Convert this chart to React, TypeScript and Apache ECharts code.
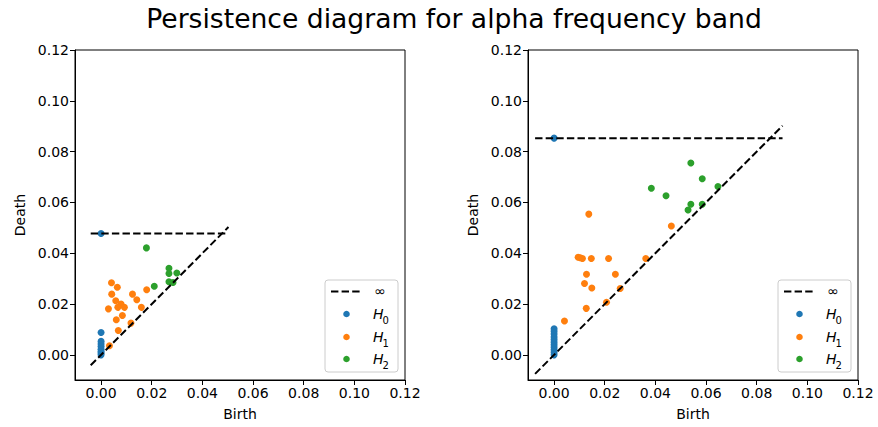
import React, { useEffect, useRef } from "react";
import * as echarts from "echarts";

// ---- data: [birth, death] pairs ----
const leftInf = 0.0478;
const leftDiag = [-0.0041, 0.0503];
const leftH0 = [
  [0, leftInf], [0, 0.0088], [0, 0.0053], [0, 0.0043], [0, 0.0033],
  [0, 0.0022], [0, 0.0013], [0, 0.0007], [0, 0.0],
];
const leftH1 = [
  [0.0041, 0.0284], [0.0064, 0.0266], [0.0042, 0.0239], [0.0124, 0.0239],
  [0.018, 0.0256], [0.0058, 0.0213], [0.0141, 0.0217], [0.0079, 0.02],
  [0.0066, 0.0187], [0.0092, 0.0187], [0.0029, 0.0181], [0.0159, 0.0187],
  [0.0084, 0.0155], [0.006, 0.0138], [0.0068, 0.0096], [0.0118, 0.0125],
  [0.0033, 0.0036],
];
const leftH2 = [
  [0.0179, 0.0421], [0.0268, 0.0341], [0.0268, 0.032], [0.0299, 0.0322],
  [0.021, 0.027], [0.0268, 0.0288], [0.0284, 0.0285],
];

const rightInf = 0.0853;
const rightDiag = [-0.0075, 0.0902];
const rightH0 = [
  [0, rightInf], [0, 0.0103], [0, 0.0093], [0, 0.0082], [0, 0.007],
  [0, 0.006], [0, 0.005], [0, 0.004], [0, 0.003], [0, 0.002], [0, 0.001], [0, 0.0],
];
const rightH1 = [
  [0.0137, 0.0554], [0.0463, 0.0507], [0.0095, 0.0384], [0.0103, 0.0382],
  [0.0112, 0.0379], [0.0147, 0.0379], [0.0215, 0.0379], [0.0362, 0.0379],
  [0.0128, 0.0317], [0.0242, 0.0317], [0.012, 0.0281], [0.0149, 0.0263],
  [0.0261, 0.0261], [0.0127, 0.0183], [0.0207, 0.0207], [0.0041, 0.0133],
];
const rightH2 = [
  [0.054, 0.0755], [0.0585, 0.0693], [0.0384, 0.0656], [0.0442, 0.0626],
  [0.0647, 0.0663], [0.054, 0.0593], [0.0585, 0.0593], [0.0529, 0.057],
];

const tickValues = [0, 0.02, 0.04, 0.06, 0.08, 0.1, 0.12];
const titleText = "Persistence diagram for alpha frequency band";
const legendLabels = ["∞", "H", "H", "H"];
const legendSubs = ["", "0", "1", "2"];

const FONT = "DejaVu Sans";
const C0 = "#1f77b4";
const C1 = "#ff7f0e";
const C2 = "#2ca02c";

const grids = [
  { left: 75, top: 50, width: 330, height: 330 },
  { left: 528, top: 50, width: 330, height: 330 },
];

function makeX(i: number) {
  return {
    type: "value",
    gridIndex: i,
    min: -0.0103,
    max: 0.12,
    axisLine: { show: true, onZero: false, lineStyle: { color: "#000", width: 1 } },
    axisTick: { show: true, customValues: tickValues, length: 5, lineStyle: { color: "#000" } },
    axisLabel: {
      customValues: tickValues,
      formatter: (v: number) => v.toFixed(2),
      color: "#000",
      fontSize: 14,
      fontFamily: FONT,
      margin: 6,
    },
    splitLine: { show: false },
    name: "Birth",
    nameLocation: "middle",
    nameGap: 27,
    nameTextStyle: { color: "#000", fontSize: 14, fontFamily: FONT },
  };
}
function makeY(i: number) {
  return {
    type: "value",
    gridIndex: i,
    min: -0.0099,
    max: 0.12,
    axisLine: { show: true, onZero: false, lineStyle: { color: "#000", width: 1 } },
    axisTick: { show: true, customValues: tickValues, length: 5, lineStyle: { color: "#000" } },
    axisLabel: {
      customValues: tickValues,
      formatter: (v: number) => v.toFixed(2),
      color: "#000",
      fontSize: 14,
      fontFamily: FONT,
      margin: 6,
    },
    splitLine: { show: false },
    name: "Death",
    nameLocation: "middle",
    nameGap: 48,
    nameTextStyle: { color: "#000", fontSize: 14, fontFamily: FONT },
  };
}

const dashStyle = { color: "#000", width: 2, type: [7.4, 3.2] };

function panelSeries(i: number, inf: number, diag: number[], h0: number[][], h1: number[][], h2: number[][]) {
  const base = { xAxisIndex: i, yAxisIndex: i };
  return [
    {
      ...base, type: "line", name: "diag", data: [[diag[0], diag[0]], [diag[1], diag[1]]],
      symbol: "none", lineStyle: dashStyle, silent: true,
    },
    {
      ...base, type: "line", name: "∞", data: [[diag[0], inf], [diag[1], inf]],
      symbol: "none", lineStyle: dashStyle, silent: true,
    },
    { ...base, type: "scatter", name: "H0", data: h0, symbolSize: 7, itemStyle: { color: C0, opacity: 1 } },
    { ...base, type: "scatter", name: "H1", data: h1, symbolSize: 7, itemStyle: { color: C1, opacity: 1 } },
    { ...base, type: "scatter", name: "H2", data: h2, symbolSize: 7, itemStyle: { color: C2, opacity: 1 } },
  ];
}

function legendGraphic(dx: number) {
  const els: any[] = [
    {
      type: "rect",
      shape: { x: 325 + dx, y: 280, width: 73, height: 92, r: 3 },
      style: { fill: "rgba(255,255,255,0.8)", stroke: "#cccccc", lineWidth: 1 },
      z: 100,
    },
    {
      type: "line",
      shape: { x1: 331 + dx, y1: 291.5, x2: 362 + dx, y2: 291.5 },
      style: { stroke: "#000", lineWidth: 2, lineDash: [7.4, 3.2] },
      z: 101,
    },
    {
      type: "text",
      x: 380 + dx, y: 291,
      style: { text: legendLabels[0], font: `14px '${FONT}'`, fill: "#000", align: "center", verticalAlign: "middle" },
      z: 101,
    },
  ];
  const colors = [C0, C1, C2];
  const ys = [314, 337, 359];
  for (let k = 0; k < 3; k++) {
    els.push({
      type: "circle",
      shape: { cx: 346.5 + dx, cy: ys[k], r: 3.3 },
      style: { fill: colors[k] },
      z: 101,
    });
    els.push({
      type: "text",
      x: 373 + dx, y: ys[k],
      style: { text: legendLabels[k + 1], font: `italic 14px '${FONT}'`, fill: "#000", align: "left", verticalAlign: "middle" },
      z: 101,
    });
    els.push({
      type: "text",
      x: 382.5 + dx, y: ys[k] + 6,
      style: { text: legendSubs[k + 1], font: `10px '${FONT}'`, fill: "#000", align: "left", verticalAlign: "middle" },
      z: 101,
    });
  }
  return els;
}

export default function App() {
  const ref = useRef<HTMLDivElement>(null);
  useEffect(() => {
    if (!ref.current) return;
    const chart = echarts.init(ref.current, null, { renderer: "svg" });
    chart.setOption({
      animation: false,
      backgroundColor: "#fff",
      textStyle: { fontFamily: FONT },
      grid: grids.map((g) => ({ ...g, show: true, borderColor: "#000", borderWidth: 1, backgroundColor: "transparent" })),
      xAxis: [makeX(0), makeX(1)],
      yAxis: [makeY(0), makeY(1)],
      series: [
        ...panelSeries(0, leftInf, leftDiag, leftH0, leftH1, leftH2),
        ...panelSeries(1, rightInf, rightDiag, rightH0, rightH1, rightH2),
      ],
      graphic: [
        {
          type: "text",
          x: 454,
          y: 18.5,
          style: {
            text: titleText,
            font: `26.6px '${FONT}'`,
            fill: "#000",
            align: "center",
            verticalAlign: "middle",
          },
        },
        ...legendGraphic(0),
        ...legendGraphic(453),
      ],
    });
    return () => chart.dispose();
  }, []);
  return <div ref={ref} style={{ position: "absolute", left: 0, top: 0, width: 878, height: 427 }} />;
}
